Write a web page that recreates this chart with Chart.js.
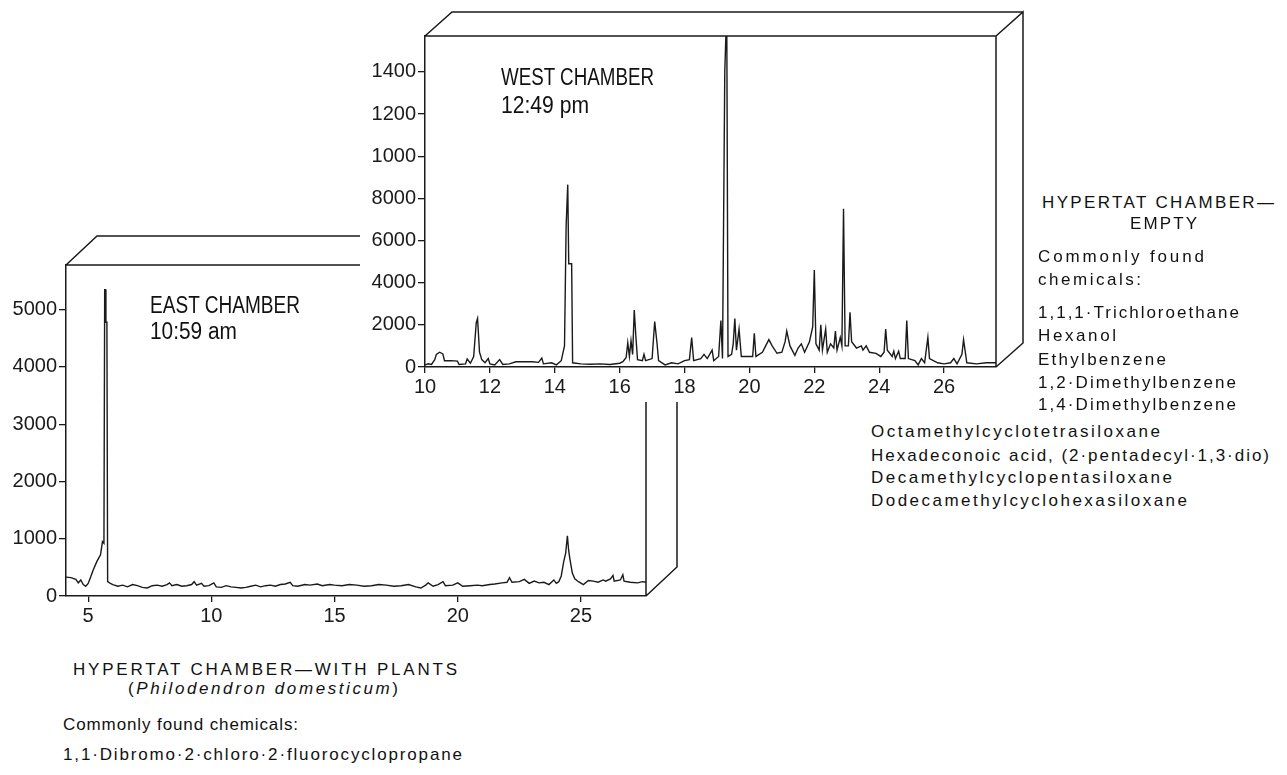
<!DOCTYPE html>
<html>
<head>
<meta charset="utf-8">
<script src="https://cdn.jsdelivr.net/npm/chart.js@4.4.1/dist/chart.umd.min.js"></script>
<style>
  body { margin: 0; background: #fff; }
  #page { position: relative; width: 1287px; height: 775px; overflow: hidden; background: #fff; color: #111; }
  canvas { position: absolute; }
  #eastChart { left: 0; top: 220px; }
  #westChart { left: 360px; top: 0; background: #fff; }
  .lbl { position: absolute; white-space: nowrap; font-family: 'Liberation Sans', Arial, sans-serif; font-size: 23px; line-height: 26px; transform-origin: 0 50%; }
  .txt { position: absolute; white-space: nowrap; font-family: 'Liberation Sans', Arial, sans-serif; font-size: 17px; line-height: 22px; }
</style>
</head>
<body>
<div id="page">
  <canvas id="eastChart" width="700" height="420"></canvas>
  <canvas id="westChart" width="680" height="402"></canvas>

  <!-- data-w: ширина строки в оригинале, data-cy: центр строки по вертикали -->
  <div class="lbl" data-fit="scale" data-w="150" data-cy="305" style="left:150px">EAST CHAMBER</div>
  <div class="lbl" data-fit="scale" data-w="87" data-cy="331" style="left:150px">10:59 am</div>
  <div class="lbl" data-fit="scale" data-w="153" data-cy="77" style="left:501px">WEST CHAMBER</div>
  <div class="lbl" data-fit="scale" data-w="88" data-cy="105" style="left:501px">12:49 pm</div>

  <!-- правый блок -->
  <div class="txt" data-fit="space" data-w="232" data-cy="203" style="left:1042px">HYPERTAT CHAMBER—</div>
  <div class="txt" data-fit="space" data-w="67" data-cy="224" style="left:1130px">EMPTY</div>
  <div class="txt" data-fit="space" data-w="166" data-cy="257" style="left:1038px">Commonly found</div>
  <div class="txt" data-fit="space" data-w="103" data-cy="280" style="left:1038px">chemicals:</div>
  <div class="txt" data-fit="space" data-w="201" data-cy="313" style="left:1038px">1,1,1·Trichloroethane</div>
  <div class="txt" data-fit="space" data-w="78" data-cy="336" style="left:1038px">Hexanol</div>
  <div class="txt" data-fit="space" data-w="128" data-cy="360" style="left:1038px">Ethylbenzene</div>
  <div class="txt" data-fit="space" data-w="198" data-cy="383" style="left:1038px">1,2·Dimethylbenzene</div>
  <div class="txt" data-fit="space" data-w="198" data-cy="405" style="left:1038px">1,4·Dimethylbenzene</div>
  <div class="txt" data-fit="space" data-w="289" data-cy="432" style="left:871px">Octamethylcyclotetrasiloxane</div>
  <div class="txt" data-fit="space" data-w="398" data-cy="456" style="left:871px">Hexadeconoic acid, (2·pentadecyl·1,3·dio)</div>
  <div class="txt" data-fit="space" data-w="301" data-cy="478" style="left:871px">Decamethylcyclopentasiloxane</div>
  <div class="txt" data-fit="space" data-w="316" data-cy="501" style="left:871px">Dodecamethylcyclohexasiloxane</div>

  <!-- нижний блок -->
  <div class="txt" data-fit="space" data-w="384" data-cy="670" style="left:73px">HYPERTAT CHAMBER—WITH PLANTS</div>
  <div class="txt" data-fit="space" data-w="270" data-cy="689" style="left:128px">(<i>Philodendron domesticum</i>)</div>
  <div class="txt" data-fit="space" data-w="235" data-cy="725" style="left:63px">Commonly found chemicals:</div>
  <div class="txt" data-fit="space" data-w="399" data-cy="755" style="left:63px">1,1·Dibromo·2·chloro·2·fluorocyclopropane</div>
</div>

<script>
// Данные хроматограмм (время удерживания, мин / сигнал)
const eastTime = [
  4.1, 4.3, 4.5, 4.6, 4.7, 4.8, 4.9, 5.0, 5.1, 5.2,
  5.35, 5.5, 5.58, 5.64, 5.67, 5.7, 5.72, 5.76, 5.79, 5.9,
  6.0, 6.2, 6.4, 6.6, 6.8, 7.0, 7.2, 7.4, 7.6, 7.8,
  8.0, 8.2, 8.3, 8.4, 8.6, 8.8, 9.0, 9.2, 9.3, 9.4,
  9.6, 9.7, 9.9, 10.1, 10.2, 10.4, 10.6, 10.8, 11.0, 11.2,
  11.4, 11.6, 11.8, 12.0, 12.2, 12.4, 12.6, 12.8, 13.0, 13.2,
  13.3, 13.5, 13.8, 14.0, 14.3, 14.5, 14.8, 15.0, 15.3, 15.6,
  15.9, 16.2, 16.5, 16.8, 17.1, 17.4, 17.7, 18.0, 18.3, 18.5,
  18.7, 18.8, 19.0, 19.2, 19.4, 19.5, 19.8, 20.0, 20.2, 20.5,
  20.8, 21.0, 21.3, 21.5, 21.8, 22.0, 22.1, 22.2, 22.5, 22.7,
  22.9, 23.1, 23.3, 23.5, 23.7, 23.9, 24.0, 24.1, 24.2, 24.3,
  24.38, 24.45, 24.5, 24.55, 24.65, 24.75, 24.9, 25.1, 25.3, 25.5,
  25.7, 25.9, 26.0, 26.2, 26.3, 26.35, 26.6, 26.7, 26.75, 27.0,
  27.3, 27.5, 27.64
];
const eastSignal = [
  330, 320, 290, 230, 280, 200, 170, 220, 330, 450,
  600, 720, 950, 920, 5350, 5350, 4780, 4780, 250, 220,
  200, 170, 190, 160, 200, 180, 150, 140, 180, 190,
  170, 200, 230, 180, 200, 170, 180, 200, 250, 190,
  220, 170, 180, 230, 160, 150, 180, 160, 150, 140,
  150, 170, 190, 160, 180, 190, 170, 200, 210, 240,
  180, 170, 200, 190, 210, 180, 200, 190, 180, 200,
  190, 170, 180, 200, 190, 170, 180, 200, 160, 140,
  190, 230, 170, 200, 250, 180, 190, 230, 170, 180,
  190, 180, 200, 210, 230, 240, 320, 240, 250, 290,
  220, 260, 230, 240, 200, 280, 220, 250, 350, 600,
  750, 1050, 800, 650, 400, 300, 250, 200, 270, 260,
  240, 280, 260, 300, 360, 260, 280, 370, 260, 240,
  230, 250, 240
];

const westTime = [
  10.0, 10.1, 10.2, 10.3, 10.35, 10.45, 10.55, 10.6, 10.8, 11.0,
  11.05, 11.25, 11.3, 11.4, 11.5, 11.58, 11.62, 11.68, 11.75, 11.85,
  11.95, 12.0, 12.15, 12.3, 12.4, 12.6, 12.8, 13.0, 13.3, 13.5,
  13.6, 13.65, 13.9, 14.05, 14.2, 14.3, 14.35, 14.4, 14.43, 14.52,
  14.55, 14.8, 15.1, 15.4, 15.7, 16.0, 16.1, 16.2, 16.25, 16.3,
  16.35, 16.4, 16.45, 16.5, 16.55, 16.7, 16.75, 16.8, 17.0, 17.08,
  17.15, 17.2, 17.4, 17.6, 17.8, 18.0, 18.15, 18.22, 18.28, 18.5,
  18.6, 18.7, 18.85, 18.9, 19.05, 19.12, 19.17, 19.24, 19.3, 19.34,
  19.45, 19.5, 19.55, 19.6, 19.68, 19.75, 19.9, 20.1, 20.15, 20.2,
  20.4, 20.5, 20.6, 20.7, 20.85, 21.0, 21.1, 21.15, 21.25, 21.4,
  21.5, 21.6, 21.7, 21.85, 21.95, 22.0, 22.05, 22.15, 22.2, 22.25,
  22.35, 22.4, 22.5, 22.6, 22.65, 22.7, 22.8, 22.85, 22.9, 22.95,
  23.05, 23.1, 23.15, 23.3, 23.45, 23.5, 23.6, 23.7, 23.9, 24.05,
  24.15, 24.2, 24.25, 24.4, 24.45, 24.5, 24.6, 24.65, 24.8, 24.85,
  24.9, 25.1, 25.2, 25.3, 25.4, 25.5, 25.55, 25.8, 26.0, 26.2,
  26.3, 26.4, 26.55, 26.6, 26.7, 27.0, 27.3, 27.6
];
const westSignal = [
  100, 150, 120, 350, 600, 700, 620, 300, 300, 280,
  120, 150, 380, 180, 500, 2100, 2300, 700, 350, 200,
  400, 150, 100, 350, 120, 150, 250, 250, 250, 220,
  420, 150, 200, 100, 300, 1000, 6700, 8650, 4900, 4900,
  200, 150, 130, 150, 120, 180, 250, 450, 1150, 500,
  1250, 600, 2700, 1450, 350, 300, 600, 300, 400, 2150,
  1150, 300, 100, 200, 150, 300, 350, 1400, 300, 400,
  600, 400, 800, 300, 500, 2200, 400, 14000, 17000, 500,
  600, 1100, 2300, 800, 1800, 500, 500, 500, 1600, 500,
  700, 1000, 1300, 1000, 650, 700, 1200, 1700, 1000, 550,
  900, 1100, 700, 1200, 1900, 4600, 1100, 800, 2000, 800,
  1800, 700, 1100, 900, 1700, 800, 1400, 1000, 7500, 1000,
  1000, 2600, 1200, 900, 1000, 800, 1000, 700, 650, 500,
  700, 1800, 800, 500, 750, 400, 750, 400, 400, 2200,
  400, 300, 100, 400, 200, 1400, 400, 200, 150, 200,
  400, 150, 600, 1300, 200, 150, 200, 200
];

// Деления осей
const eastXTicks = [5, 10, 15, 20, 25];
const eastYTicks = [0, 1000, 2000, 3000, 4000, 5000];
const westXTicks = [10, 12, 14, 16, 18, 20, 22, 24, 26];
const westYTicks = [0, 2000, 4000, 6000, 8000, 10000, 12000, 14000];
const westYTickLabels = ['0', '2000', '4000', '6000', '8000', '1000', '1200', '1400'];

const INK = '#1a1a1a';
const tickFont = { family: "'Liberation Sans', Arial, sans-serif", size: 20 };

// Подгоняем подписи под ширину строк оригинала
document.querySelectorAll('[data-fit]').forEach(el => {
  const w = +el.dataset.w;
  const lh = parseFloat(getComputedStyle(el).lineHeight);
  el.style.top = (+el.dataset.cy - lh / 2) + 'px';
  const natural = el.getBoundingClientRect().width;
  if (el.dataset.fit === 'scale') {
    el.style.transform = `scaleX(${w / natural})`;
  } else {
    const n = el.textContent.length;
    el.style.letterSpacing = ((w - natural) / (n - 1)) + 'px';
  }
});

// Рисуем "коробку" с объёмом вокруг области графика
const box3d = {
  id: 'box3d',
  afterDraw(chart, args, opts) {
    const { ctx } = chart;
    const { left, top, right, bottom } = chart.chartArea;
    const dx = opts.dx, dy = opts.dy;
    ctx.save();
    ctx.strokeStyle = INK;
    ctx.lineWidth = 1.5;
    ctx.beginPath();
    ctx.moveTo(left, top); ctx.lineTo(right, top);
    ctx.moveTo(right, top); ctx.lineTo(right, bottom);
    ctx.moveTo(left, top); ctx.lineTo(left + dx, top + dy);
    ctx.lineTo(right + dx, top + dy);
    ctx.moveTo(right, top); ctx.lineTo(right + dx, top + dy);
    ctx.lineTo(right + dx, bottom + dy);
    ctx.lineTo(right, bottom);
    ctx.stroke();
    ctx.restore();
  }
};

function makeChart(id, time, signal, o) {
  return new Chart(document.getElementById(id), {
    type: 'line',
    data: {
      datasets: [{
        data: time.map((t, i) => ({ x: t, y: signal[i] })),
        borderColor: INK,
        borderWidth: 1.4,
        pointRadius: 0,
        tension: 0,
        fill: false
      }]
    },
    options: {
      responsive: false,
      animation: false,
      devicePixelRatio: 1,
      layout: { padding: o.padding },
      plugins: { legend: { display: false }, tooltip: { enabled: false }, box3d: o.box },
      scales: {
        x: {
          type: 'linear', min: o.xMin, max: o.xMax,
          afterBuildTicks: s => { s.ticks = o.xTicks.map(v => ({ value: v })); },
          afterFit: s => { s.height = o.xAxisH; },
          grid: { drawOnChartArea: false, drawTicks: true, tickLength: 6, color: INK, lineWidth: 1.3 },
          border: { display: true, color: INK, width: 1.5 },
          ticks: { color: INK, font: tickFont, padding: 2, maxRotation: 0, autoSkip: false }
        },
        y: {
          type: 'linear', min: 0, max: o.yMax,
          afterBuildTicks: s => { s.ticks = o.yTicks.map(v => ({ value: v })); },
          afterFit: s => { s.width = o.yAxisW; },
          grid: { drawOnChartArea: false, drawTicks: true, tickLength: 7, color: INK, lineWidth: 1.3 },
          border: { display: true, color: INK, width: 1.5 },
          ticks: { color: INK, font: tickFont, padding: 2, callback: o.yLabel }
        }
      }
    },
    plugins: [box3d]
  });
}

// Восточная камера (с растениями)
makeChart('eastChart', eastTime, eastSignal, {
  padding: { left: 0, top: 45, right: 54, bottom: 0 },
  xMin: 4.1, xMax: 27.64, yMax: 5780,
  xTicks: eastXTicks, yTicks: eastYTicks,
  xAxisH: 44, yAxisW: 66,
  yLabel: v => String(v),
  box: { dx: 31, dy: -29 }
});

// Западная камера (пустая)
makeChart('westChart', westTime, westSignal, {
  padding: { left: 0, top: 36, right: 44, bottom: 0 },
  xMin: 10, xMax: 27.6, yMax: 15700,
  xTicks: westXTicks, yTicks: westYTicks,
  xAxisH: 35, yAxisW: 65,
  yLabel: v => westYTickLabels[westYTicks.indexOf(v)],
  box: { dx: 27, dy: -24 }
});
</script>
</body>
</html>
